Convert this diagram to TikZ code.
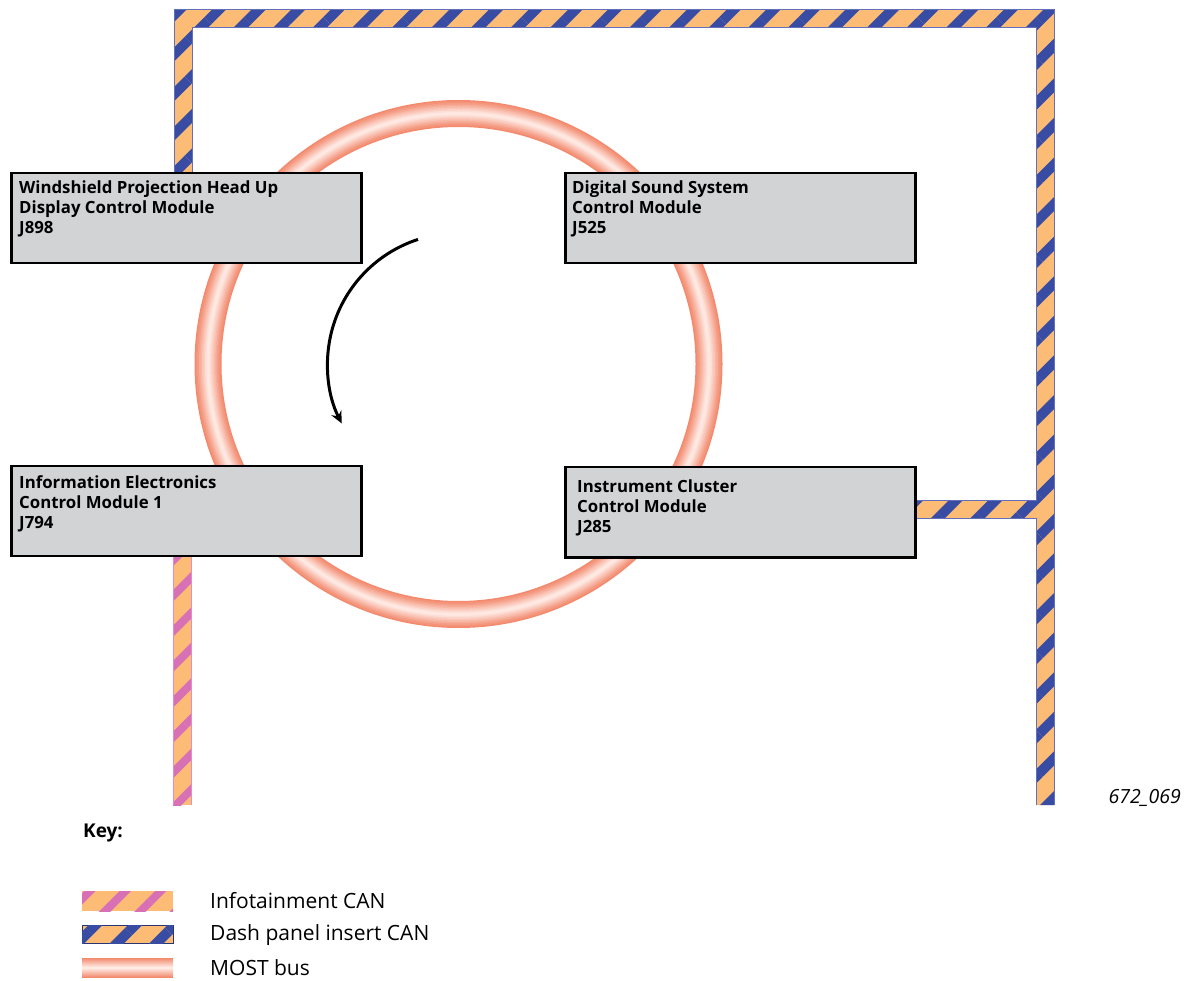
\documentclass[tikz,border=0pt]{standalone}
\usepackage{fontspec}
\setmainfont{Open Sans}
\usetikzlibrary{patterns.meta,arrows.meta}
\definecolor{busorange}{RGB}{253,188,118}
\definecolor{busblue}{RGB}{56,76,164}
\definecolor{buspink}{RGB}{216,112,182}
\definecolor{edgeblue}{RGB}{98,112,188}
\definecolor{edgepink}{RGB}{228,140,198}
\definecolor{boxgray}{RGB}{210,211,213}
\definecolor{mostA}{RGB}{243,138,110}
\definecolor{mostF}{RGB}{255,240,235}
\tikzset{
  dashbus/.style={fill=busorange, postaction={pattern={Lines[angle=45,distance=28pt,line width=10pt]}, pattern color=busblue}},
  infobus/.style={fill=busorange, postaction={pattern={Lines[angle=45,distance=25pt,line width=8pt]}, pattern color=buspink}},
  box/.style={draw=black, line width=2.5pt, fill=boxgray, minimum width=350, minimum height=90, anchor=north west, inner sep=0},
  boxtext/.style={anchor=north west, inner sep=0, align=left, font=\fontsize{16.8}{20}\selectfont\bfseries},
  keytext/.style={anchor=west, inner sep=0, font=\fontsize{21}{22}\selectfont},
}
\begin{document}
\begin{tikzpicture}[x=1pt,y=-1pt]
\useasboundingbox (0,0) rectangle (1187,981);
% ring centre
\coordinate (c) at (458.5,364);
% dash panel insert CAN frame
\coordinate (d1) at (174,180);
\coordinate (d2) at (174,10);
\coordinate (d3) at (1054,10);
\coordinate (d4) at (1054,805);
\coordinate (d5) at (1036,805);
\coordinate (d6) at (1036,519);
\coordinate (d7) at (905,519);
\coordinate (d8) at (905,501);
\coordinate (d9) at (1036,501);
\coordinate (d10) at (1036,28);
\coordinate (d11) at (192,28);
\coordinate (d12) at (192,180);
\path[dashbus] (d1) -- (d2) -- (d3) -- (d4) -- (d5) -- (d6) -- (d7) -- (d8) -- (d9) -- (d10) -- (d11) -- (d12) -- cycle;
\draw[edgeblue, line width=1pt] (d1) -- (d2) -- (d3) -- (d4) (d5) -- (d6) -- (d7) (d8) -- (d9) -- (d10) -- (d11) -- (d12);
% infotainment CAN
\coordinate (i1) at (173,550);
\coordinate (i2) at (191,805);
\path[infobus] (i1) rectangle (i2);
\draw[edgepink, line width=1pt] (i1) -- (i1 |- i2) (i2 |- i1) -- (i2);
% MOST ring
\foreach \w/\m in {27/0,24/10,21/20,18/32,15/45,12/58,9/70,6/82,3/92}{
  \draw[mostF!\m!mostA, line width=\w pt] (c) circle[radius=250.5];
}
% boxes
\node[box] (j898) at (10,172) {};
\node[box] (j525) at (564,172) {};
\node[box] (j794) at (10,465) {};
\node[box] (j285) at (564,466) {};
\node[boxtext] (t898) at ([shift={(9,9)}]j898.north west) {Windshield Projection Head Up\\Display Control Module\\J898};
\node[boxtext] (t525) at ([shift={(8,9)}]j525.north west) {Digital Sound System\\Control Module\\J525};
\node[boxtext] (t794) at ([shift={(9,10)}]j794.north west) {Information Electronics\\Control Module 1\\J794};
\node[boxtext] (t285) at ([shift={(13,14)}]j285.north west) {Instrument Cluster\\Control Module\\J285};
% direction arrow
\draw[line width=3pt, -{Stealth[length=12pt,width=11pt]}] ([shift={(252:131)}]c) arc[start angle=252, end angle=153, radius=131];
% figure number
\node[anchor=east, inner sep=0, font=\fontsize{19.5}{22}\selectfont\itshape] (fig) at (1181,798) {672\_069};
% key
\node[anchor=west, inner sep=0, font=\fontsize{19}{22}\selectfont\bfseries] (key) at (83,833) {Key:};
\coordinate (k1a) at (82,891); \coordinate (k1b) at (173,911);
\coordinate (k2a) at (82,925); \coordinate (k2b) at (173,943);
\coordinate (k3a) at (82,958); \coordinate (k3b) at (173,977);
\path[infobus] (k1a) rectangle (k1b);
\path[dashbus, draw=busblue!70!black, line width=0.6pt] (k2a) rectangle (k2b);
\shade[top color=mostA, bottom color=mostA, middle color=mostF] (k3a) rectangle (k3b);
\node[keytext] (l1) at (210,901) {Infotainment CAN};
\node[keytext] (l2) at (210,935) {Dash panel insert CAN};
\node[keytext] (l3) at (210,968) {MOST bus};
\end{tikzpicture}
\end{document}
